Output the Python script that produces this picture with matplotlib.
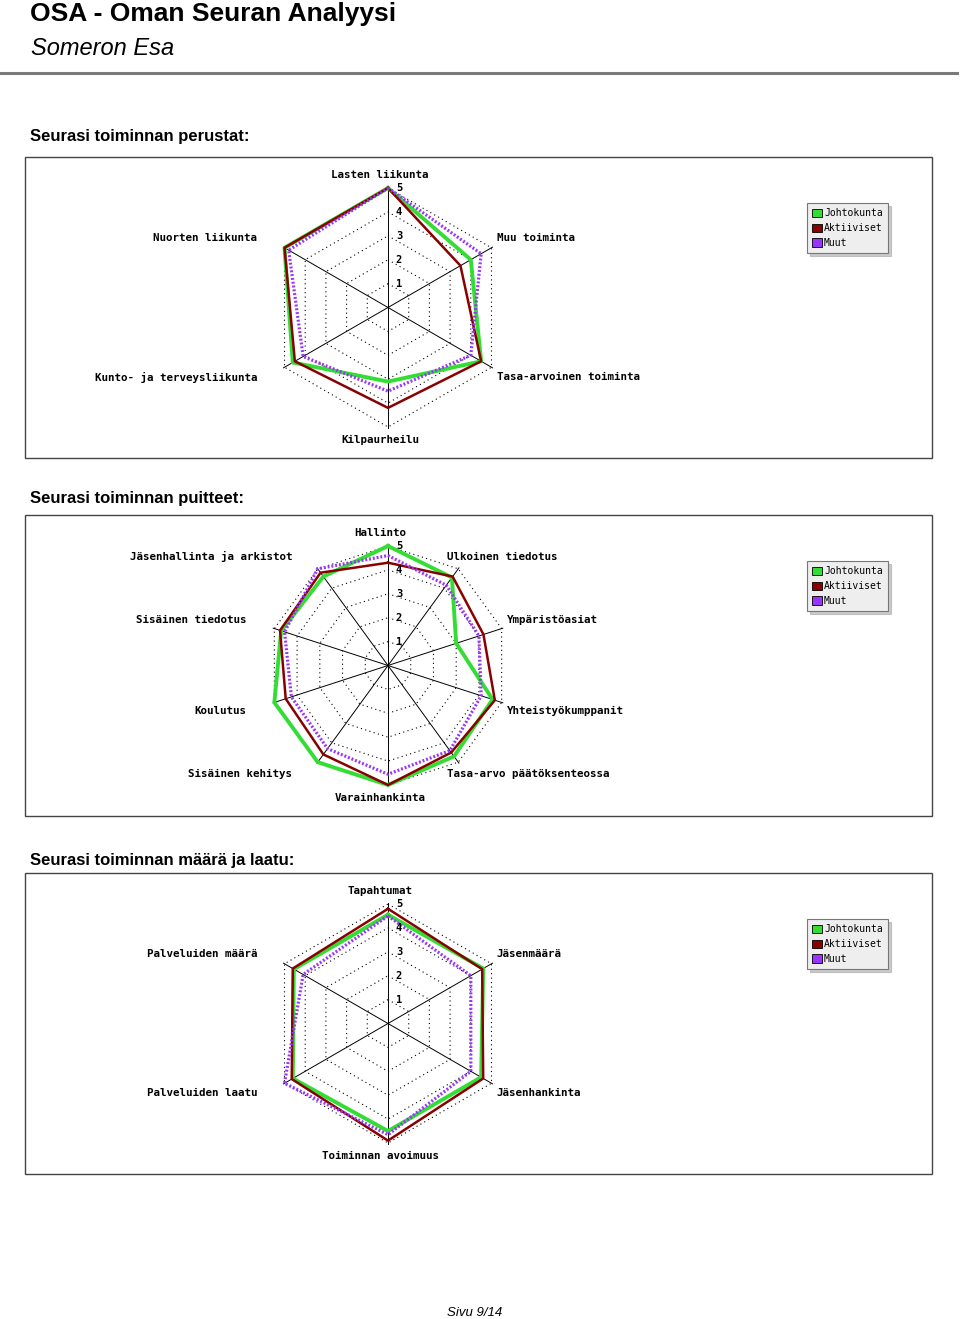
import numpy as np
import matplotlib.pyplot as plt
from matplotlib.patches import Patch, Rectangle
from matplotlib.lines import Line2D

W, H = 960, 1319

# sarjat
series = ['Johtokunta', 'Aktiiviset', 'Muut']
colors = ['#33dd33', '#880000', '#9933ff']

perustat_cats = ['Lasten liikunta', 'Muu toiminta', 'Tasa-arvoinen toiminta',
                 'Kilpaurheilu', 'Kunto- ja terveysliikunta', 'Nuorten liikunta']
perustat_johtokunta = [5.0, 4.0, 4.5, 3.1, 4.6, 5.0]
perustat_aktiiviset = [5.0, 3.5, 4.5, 4.2, 4.5, 5.0]
perustat_muut = [5.0, 4.5, 4.0, 3.5, 4.1, 4.8]

puitteet_cats = ['Hallinto', 'Ulkoinen tiedotus', 'Ympäristöasiat', 'Yhteistyökumppanit',
                 'Tasa-arvo päätöksenteossa', 'Varainhankinta', 'Sisäinen kehitys',
                 'Koulutus', 'Sisäinen tiedotus', 'Jäsenhallinta ja arkistot']
puitteet_johtokunta = [5.0, 4.55, 3.0, 4.6, 4.7, 5.0, 5.0, 5.0, 4.7, 4.6]
puitteet_aktiiviset = [4.3, 4.6, 4.2, 4.7, 4.5, 5.0, 4.6, 4.5, 4.75, 4.8]
puitteet_muut = [4.6, 4.15, 4.0, 4.1, 4.4, 4.55, 4.3, 4.25, 4.55, 5.0]

maara_cats = ['Tapahtumat', 'Jäsenmäärä', 'Jäsenhankinta', 'Toiminnan avoimuus',
              'Palveluiden laatu', 'Palveluiden määrä']
maara_johtokunta = [4.55, 4.6, 4.5, 4.5, 4.6, 4.55]
maara_aktiiviset = [4.8, 4.55, 4.6, 4.9, 4.65, 4.6]
maara_muut = [4.5, 4.0, 4.0, 4.65, 5.0, 4.1]

headings = ['Seurasi toiminnan perustat:', 'Seurasi toiminnan puitteet:',
            'Seurasi toiminnan määrä ja laatu:']

fig = plt.figure(figsize=(W / 100, H / 100), dpi=100)


def fx(px):
    return px / W


def fy(py):
    return 1 - py / H


# otsikot
fig.text(fx(30), fy(21), 'OSA - Oman Seuran Analyysi', fontsize=19, fontweight='bold',
         family='Liberation Sans', va='baseline')
fig.text(fx(31), fy(55), 'Someron Esa', fontsize=17, style='italic',
         family='Liberation Sans', va='baseline')
fig.add_artist(Line2D([0, fx(957)], [fy(72.5), fy(72.5)], color='#7a7a7a', lw=2.2))
fig.text(fx(475), fy(1316), 'Sivu 9/14', fontsize=9.5, style='italic',
         family='Liberation Sans', ha='center', va='baseline')

mono = 'DejaVu Sans Mono'


def radar(box_top, heading_base, title, cats, values):
    fig.text(fx(30), fy(heading_base), title, fontsize=12, fontweight='bold',
             family='Liberation Sans', va='baseline')
    fig.add_artist(Rectangle((fx(25), fy(box_top + 301)), fx(907), 301 / H,
                             fill=False, edgecolor='#444444', lw=1))
    n = len(cats)
    angles = np.arange(n) * 2 * np.pi / n
    closed = np.append(angles, angles[0])
    R = 119.5
    cy = box_top + 150.5
    ax = fig.add_axes([fx(388 - R), fy(cy + R), 2 * R / W, 2 * R / H], projection='polar')
    ax.set_theta_zero_location('N')
    ax.set_theta_direction(-1)
    ax.set_ylim(0, 5)
    ax.axis('off')
    for k in range(1, 6):
        ax.plot(closed, [k] * (n + 1), color='black', lw=0.8, ls=(0, (1, 3)), clip_on=False)
    for a in angles:
        ax.plot([a, a], [0, 5.05], color='black', lw=0.7, clip_on=False)
    styles = [dict(lw=2.8), dict(lw=1.8), dict(lw=2.3, ls=(0, (0.6, 0.6)))]
    for vals, c, st in zip(values, colors, styles):
        ax.plot(closed, list(vals) + [vals[0]], color=c, clip_on=False, **st)
    for k in range(1, 6):
        ax.annotate(str(k), xy=(0, k), xytext=(11, 0), textcoords='offset pixels',
                    ha='center', va='center', family=mono, fontweight='bold',
                    fontsize=7.5, annotation_clip=False)
    for a, name in zip(angles, cats):
        s, c = np.sin(a), np.cos(a)
        if s > 0.1:
            ha = 'left'
            dx = -15 if abs(c) > 0.7 else 0
        elif s < -0.1:
            ha = 'right'
            dx = -22
        else:
            ha = 'center'
            dx = -8
        va = 'bottom' if c > 0.1 else ('top' if c < -0.1 else 'center')
        dy = 2 if c > 0.1 else (-2 if c < -0.1 else 0)
        ax.annotate(name, xy=(a, 5.25), xytext=(dx, dy), textcoords='offset pixels',
                    ha=ha, va=va, family=mono, fontweight='bold', fontsize=7.8,
                    annotation_clip=False)
    handles = [Patch(facecolor=c, edgecolor='black', lw=0.6) for c in colors]
    leg = fig.legend(handles, series, loc='upper left',
                     bbox_to_anchor=(fx(807), fy(box_top + 46)),
                     prop=dict(family=mono, size=7), frameon=True, fancybox=False,
                     shadow=dict(color='#999999'), edgecolor='#777777', facecolor='#eeeeee',
                     framealpha=1, handlelength=1.0, handleheight=1.0,
                     handletextpad=0.2, labelspacing=0.5, borderpad=0.55,
                     borderaxespad=0)
    leg.get_frame().set_linewidth(0.8)


radar(157, 140.5, headings[0], perustat_cats,
      [perustat_johtokunta, perustat_aktiiviset, perustat_muut])
radar(515, 503.5, headings[1], puitteet_cats,
      [puitteet_johtokunta, puitteet_aktiiviset, puitteet_muut])
radar(873, 865.5, headings[2], maara_cats,
      [maara_johtokunta, maara_aktiiviset, maara_muut])

fig.savefig('out.png', dpi=100)
